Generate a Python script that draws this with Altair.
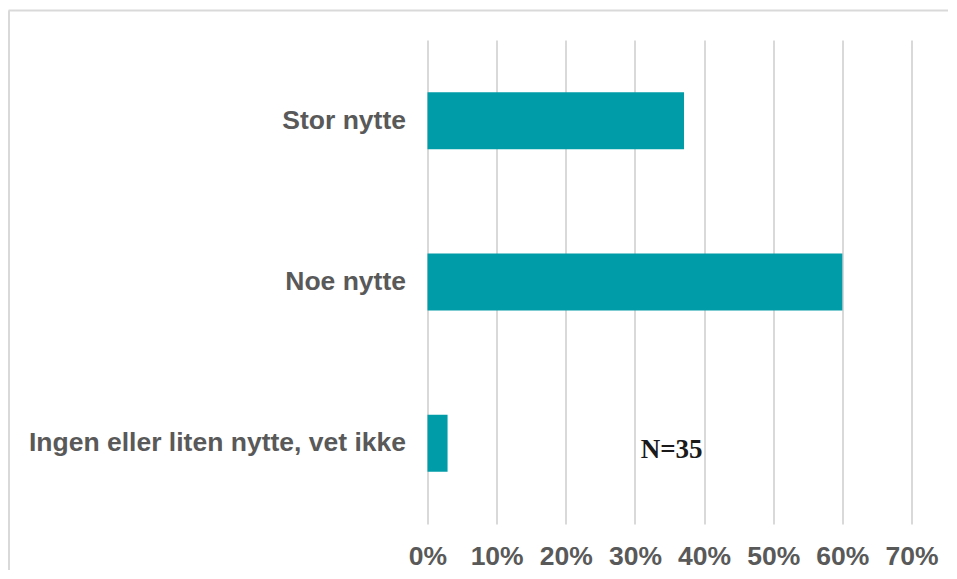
import altair as alt
import pandas as pd

categories = ["Stor nytte", "Noe nytte", "Ingen eller liten nytte, vet ikke"]
shares = [0.371, 0.600, 0.029]
tick_values = [0.0, 0.1, 0.2, 0.3, 0.4, 0.5, 0.6, 0.7]
note_text = ["N=35"]
note_x = [0.353]
note_cat = ["Ingen eller liten nytte, vet ikke"]

df = pd.DataFrame({"kategori": categories, "andel": shares})
note_df = pd.DataFrame({"t": note_text, "andel": note_x, "kategori": note_cat})
frame_df = pd.DataFrame({"a": [0]})

LABEL_FONT = "Liberation Sans"
LABEL_COLOR = "#595959"
FS = 26.5

y_enc = alt.Y(
    "kategori:N",
    sort=None,
    title=None,
    scale=alt.Scale(domain=categories, paddingInner=0.647, paddingOuter=0.3235),
    axis=alt.Axis(
        labelFont=LABEL_FONT, labelFontWeight="bold", labelFontSize=FS,
        labelColor=LABEL_COLOR, labelPadding=22, domain=False, ticks=False,
        labelLimit=600, labelOverlap=False,
    ),
)
x_enc = alt.X(
    "andel:Q",
    title=None,
    scale=alt.Scale(domain=[0, 0.7], nice=False),
    axis=alt.Axis(
        values=tick_values, format=".0%", grid=True, gridColor="#D9D9D9",
        gridWidth=2, domain=False, ticks=False, labelFont=LABEL_FONT,
        labelFontWeight="bold", labelFontSize=FS, labelColor=LABEL_COLOR,
        labelPadding=19, labelOverlap=False, labelFlush=False,
    ),
)

bars = alt.Chart(df).mark_bar(color="#009CA8").encode(y=y_enc, x=x_enc)

note = alt.Chart(note_df).mark_text(
    font="Liberation Serif", fontWeight="bold", fontSize=27, color="#1A1A1A", dy=7
).encode(
    x=alt.X("andel:Q"),
    y=alt.Y("kategori:N", sort=None),
    text="t:N",
)

top_line = alt.Chart(frame_df).mark_rule(color="#D9D9D9", strokeWidth=2).encode(
    x=alt.value(-419), x2=alt.value(700), y=alt.value(-29.5)
)
left_line = alt.Chart(frame_df).mark_rule(color="#D9D9D9", strokeWidth=2).encode(
    x=alt.value(-418.5), y=alt.value(-29.5), y2=alt.value(700)
)

chart = alt.layer(bars, note, top_line, left_line).properties(
    width=484,
    height=484,
    autosize=alt.AutoSizeParams(type="none"),
    padding={"left": 419.5, "top": 32, "right": 36, "bottom": 46},
).configure_view(stroke=None)

chart.save("out.html", embed_options={"renderer": "svg", "actions": False})
